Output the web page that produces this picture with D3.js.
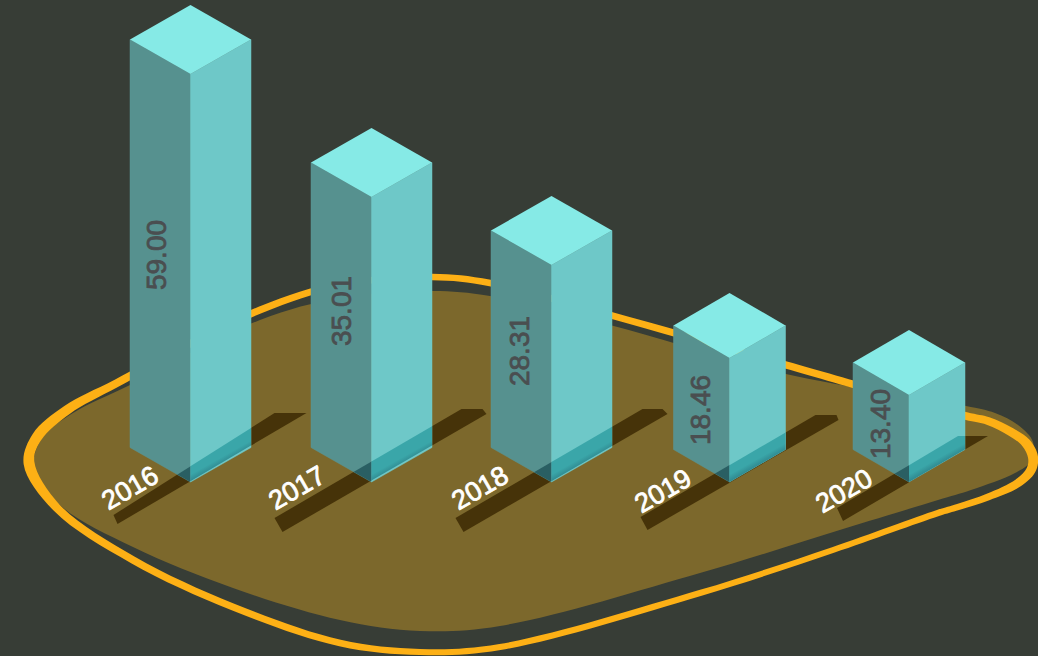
<!DOCTYPE html>
<html><head><meta charset="utf-8">
<script src="https://cdn.jsdelivr.net/npm/d3@7"></script>
<style>html,body{margin:0;padding:0;background:#373d36;overflow:hidden}svg{display:block}text{font-family:"Liberation Sans",Arial,sans-serif}</style>
</head><body><svg id="c" width="1038" height="656"></svg>
<script>
const categories = ["2016","2017","2018","2019","2020"];
const values = [59.00,35.01,28.31,18.46,13.40];
const valueLabels = ["59.00","35.01","28.31","18.46","13.40"];

// Layout (pixels), kept apart from the data
const W=1038,H=656,baseY=482;
const x = d3.scaleOrdinal(categories,[190.5,371.5,551.5,729.5,909]);
const halfW = d3.scaleOrdinal(categories,[60.5,60.5,60.5,56,56]);
const halfD = d3.scaleOrdinal(categories,[34.5,34.5,34.5,32.5,32.5]);
// the pictorial height axis of the reference is not proportional: piecewise scale
const h = d3.scaleLinear().domain([0,13.40,18.46,28.31,35.01,59]).range([0,87,124,217,285,408]);
// shadow outline, offsets from each bar's front-bottom corner
const shadowOff = {
 "2016":[[-77,33],[84,-69],[116,-69],[-73,42]],
 "2017":[[-97,36],[90,-73],[111,-73],[115,-68],[-89,50]],
 "2018":[[-96,36],[91,-73],[111,-73],[116,-68],[-88,50]],
 "2019":[[-89,35],[86,-67],[107,-67],[109,-62],[-82,48]],
 "2020":[[-72,26],[49,-46],[79,-46],[-66,39]]
};
const labelPos = d3.scaleOrdinal(categories,[[130,488],[297,488],[480,488],[663,491],[844,491]]);
const valuePos = d3.scaleOrdinal(categories,[[-34,-227],[-30,-171],[-32,-131],[-29,-72],[-29,-58]]);
// closed outline band: [x, y, band width]
const blobStroke=[[29,463,11],[37,437,10.5],[67,410,9.5],[117,383,8],[260,310,7],[340,285,6.5],[432,277,6.5],[490,283,6.5],[610,315,7],[786,365,7.5],[966,416,8],[988,421,8],[1011,432,8.5],[1026,443,9.5],[1033,457,10],[1031,470,9.5],[1018,483,8.5],[988,497,7],[958,507,6.5],[938,513,6.5],[833,550,6],[700,593,6],[500,647,6],[420,652,6],[340,643,6.5],[233,607,7],[133,560,7.5],[57,508,8.5]];
const blobFill=[[34,465],[43,437],[73,413],[130,385],[260,320],[340,298],[432,291],[490,296],[610,325],[786,374],[966,406],[995,413],[1018,425],[1033,442],[1030,462],[1015,473],[971,490],[938,500],[843,529],[700,573],[500,626],[420,631],[340,620],[233,588],[133,547],[60,505]];

const svg=d3.select("#c");
svg.append("rect").attr("width",W).attr("height",H).attr("fill","#373d36");
const blob=d3.line().curve(d3.curveCatmullRomClosed.alpha(0.5));
svg.append("path").attr("d",blob(blobFill)).attr("fill","#7c682c");
// band = outer and inner offsets of the centre line along its normals
const n=blobStroke.length;
const offset=s=>blobStroke.map((p,i)=>{
  const a=blobStroke[(i-1+n)%n],b=blobStroke[(i+1)%n];
  const dx=b[0]-a[0],dy=b[1]-a[1],l=Math.hypot(dx,dy);
  return [p[0]+s*dy/l*p[2]/2,p[1]-s*dx/l*p[2]/2];
});
svg.append("path").attr("d",blob(offset(1))+blob(offset(-1))).attr("fill","#fdb015").attr("fill-rule","evenodd");

const defs=svg.append("defs");
const poly=p=>p.map(q=>q.join(",")).join(" ");
const rows=categories.map((c,i)=>{
  const fx=x(c),w=halfW(c),d=halfD(c),ht=h(values[i]),top=baseY-ht;
  return {c,i,fx,w,d,top,
    left:[[fx-w,baseY-d],[fx,baseY],[fx,top],[fx-w,top-d]],
    right:[[fx,baseY],[fx+w,baseY-d],[fx+w,top-d],[fx,top]],
    cap:[[fx,top],[fx+w,top-d],[fx,top-2*d],[fx-w,top-d]],
    shadow:shadowOff[c].map(o=>[fx+o[0],baseY+o[1]])};
});
// shadows on the ground
svg.selectAll("polygon.shadow").data(rows).join("polygon").attr("class","shadow")
  .attr("points",r=>poly(r.shadow)).attr("fill","#463309");

rows.forEach(r=>{
  const g=svg.append("g");
  g.append("polygon").attr("points",poly(r.left)).attr("fill","#56918f").attr("stroke","#5a9795").attr("stroke-width",.5);
  g.append("polygon").attr("points",poly(r.right)).attr("fill","#6ec8c8").attr("stroke","#72cccb").attr("stroke-width",.5);
  defs.append("clipPath").attr("id","cl"+r.i).append("polygon").attr("points",poly(r.left));
  defs.append("clipPath").attr("id","cr"+r.i).append("polygon").attr("points",poly(r.right));
  const gr=defs.append("linearGradient").attr("id","g"+r.i).attr("gradientUnits","userSpaceOnUse")
    .attr("x1",r.fx).attr("y1",baseY-19).attr("x2",r.fx+9).attr("y2",baseY-3);
  gr.append("stop").attr("offset",0).attr("stop-color","#3aa6a9");
  gr.append("stop").attr("offset",.55).attr("stop-color","#3aa6a9");
  gr.append("stop").attr("offset",1).attr("stop-color","#2c8088");
  g.append("polygon").attr("points",poly(r.shadow)).attr("clip-path",`url(#cl${r.i})`).attr("fill","#2a5f63");
  g.append("polygon").attr("points",poly(r.shadow)).attr("clip-path",`url(#cr${r.i})`).attr("fill",`url(#g${r.i})`);
  g.append("polygon").attr("points",poly(r.cap)).attr("fill","#86eae6");
  const vp=valuePos(r.c);
  g.append("text").attr("transform",`translate(${r.fx+vp[0]},${baseY+vp[1]}) rotate(-90)`)
    .attr("text-anchor","middle").attr("dominant-baseline","central")
    .attr("font-size",28).attr("fill","#4a4e50").attr("stroke","#4a4e50").attr("stroke-width",.8)
    .text(valueLabels[r.i]);
});
svg.selectAll("text.cat").data(categories).join("text").attr("class","cat")
  .attr("transform",c=>{const p=labelPos(c);return `translate(${p[0]},${p[1]}) rotate(-30)`})
  .attr("text-anchor","middle").attr("dominant-baseline","central")
  .attr("font-size",27).attr("fill","#fff").attr("stroke","#fff").attr("stroke-width",.8)
  .text(c=>c);
</script></body></html>
